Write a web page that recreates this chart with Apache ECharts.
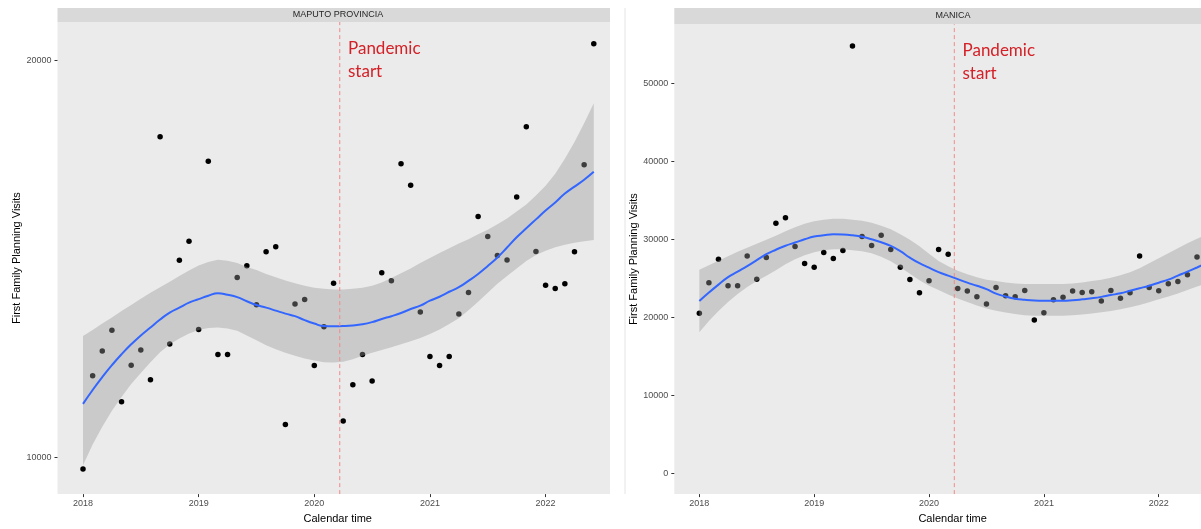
<!DOCTYPE html>
<html><head><meta charset="utf-8">
<script src="https://cdn.jsdelivr.net/npm/echarts@6/dist/echarts.min.js"></script>
<style>html,body{margin:0;padding:0;background:#fff;}#c{width:1201px;height:529px;}</style>
</head><body><div id="c"></div>
<script>
// Monthly observations starting January 2018 (index i -> 2018 + i/12)
const startYear = 2018;
const panelTitles = ['MAPUTO PROVINCIA', 'MANICA'];
const xTicks = [2018, 2019, 2020, 2021, 2022];
const maputoTicks = [10000, 20000];
const manicaTicks = [0, 10000, 20000, 30000, 40000, 50000];
const pandemicStart = 2020.22;
const annotation = 'Pandemic\nstart';
const xTitle = 'Calendar time';
const yTitle = 'First Family Planning Visits';

const maputoVisits = [9707, 12057, 12682, 13207, 11400, 12325, 12707, 11957, 18082, 12857,
  14967, 15450, 13225, 17467, 12592, 12592, 14532, 14832, 13850, 15182,
  15307, 10832, 13867, 13982, 12317, 13292, 14392, 10917, 11832, 12592,
  11925, 14657, 14450, 17400, 16857, 13667, 12542, 12317, 12542, 13617,
  14157, 16075, 15567, 15092, 14975, 16567, 18332, 15192, 14342, 14257,
  14375, 15182, 17375, 20425];
const maputoSmooth = [11350, 11700, 12025, 12325, 12600, 12850, 13075, 13275, 13475, 13650,
  13775, 13900, 13990, 14075, 14140, 14100, 14040, 13937, 13840, 13775,
  13700, 13625, 13560, 13460, 13375, 13310, 13305, 13310, 13325, 13355,
  13410, 13490, 13560, 13640, 13740, 13825, 13950, 14050, 14175, 14290,
  14450, 14625, 14825, 15040, 15290, 15550, 15775, 16000, 16225, 16425,
  16650, 16825, 17000, 17200];
const maputoUpper = [13060, 13210, 13375, 13525, 13690, 13840, 14000, 14150, 14290, 14425,
  14575, 14710, 14840, 14925, 14980, 14960, 14900, 14800, 14725, 14625,
  14540, 14460, 14390, 14325, 14275, 14250, 14230, 14230, 14250, 14275,
  14325, 14410, 14525, 14640, 14760, 14900, 15025, 15150, 15275, 15390,
  15500, 15625, 15740, 15875, 16025, 16200, 16375, 16600, 16850, 17150,
  17525, 17950, 18425, 18925];
const maputoLower = [9800, 10325, 10775, 11175, 11525, 11850, 12125, 12400, 12650, 12850,
  13000, 13125, 13210, 13260, 13275, 13250, 13190, 13075, 12950, 12825,
  12725, 12640, 12560, 12490, 12440, 12400, 12390, 12410, 12475, 12560,
  12640, 12710, 12775, 12850, 12925, 13010, 13110, 13225, 13360, 13510,
  13710, 13925, 14150, 14375, 14575, 14760, 14950, 15100, 15210, 15300,
  15360, 15410, 15450, 15480];

const manicaVisits = [20534, 24444, 27473, 24061, 24061, 27894, 24917, 27690, 32073, 32801,
  29095, 26923, 26450, 28329, 27562, 28584, 54818, 30373, 29224, 30539,
  28712, 26450, 24879, 23167, 24700, 28712, 28112, 23729, 23384, 22655,
  21723, 23857, 22783, 22655, 23473, 19678, 20611, 22272, 22579, 23384,
  23218, 23294, 22106, 23473, 22451, 23167, 27894, 23857, 23422, 24317,
  24623, 25467, 27767];
const manicaSmooth = [22106, 23192, 24214, 25173, 25875, 26578, 27345, 28112, 28687, 29197,
  29606, 30028, 30373, 30539, 30667, 30642, 30539, 30348, 30028, 29645,
  29172, 28495, 27664, 26962, 26387, 25812, 25364, 24917, 24470, 24061,
  23639, 23064, 22681, 22400, 22259, 22170, 22144, 22144, 22144, 22208,
  22323, 22464, 22643, 22873, 23103, 23422, 23742, 24074, 24457, 24853,
  25364, 25875, 26412, 26962];
const manicaUpper = [26105, 26706, 27281, 27856, 28431, 28942, 29453, 29964, 30475, 31051,
  31562, 32009, 32328, 32520, 32648, 32648, 32520, 32392, 32137, 31753,
  31306, 30667, 29964, 29134, 28175, 27255, 26578, 26003, 25556, 25173,
  24853, 24662, 24470, 24342, 24278, 24278, 24278, 24278, 24278, 24342,
  24470, 24662, 24853, 25109, 25428, 25812, 26323, 26962, 27600, 28239,
  28878, 29517, 30092, 30667];
const manicaLower = [18106, 19550, 20828, 21978, 23000, 23895, 24662, 25364, 26067, 26834,
  27473, 27984, 28367, 28623, 28751, 28751, 28623, 28495, 28239, 27792,
  27217, 26450, 25620, 24789, 24061, 23512, 22937, 22425, 21978, 21531,
  21148, 20866, 20636, 20445, 20291, 20227, 20227, 20227, 20227, 20279,
  20381, 20509, 20662, 20828, 21045, 21301, 21595, 21940, 22323, 22681,
  23064, 23512, 23959, 24406];

const xOf = i => startYear + i / 12;

// the right panel is cut off by the right edge of the picture
const grids = [
  { left: 57.5, top: 22, width: 552.5, height: 476 },
  { left: 674.3, top: 24.3, right: 0, height: 471.4 }
];
const yRanges = [[9075, 20975], [-2645, 57590]];
const yTickSets = [maputoTicks, manicaTicks];
const xRanges = [[2017.7795, 2022.557], [2017.782, 2022.368]];
const yNameGaps = [30, 23];
const xNamePads = [[0, 0, 0, 8], [0, 0, 0, 30]];

function panelSeries(gi, visits, smooth, upper, lower) {
  const bandData = upper.map((u, i) => [xOf(i), lower[i], u]);
  return [
    { type: 'scatter', xAxisIndex: gi, yAxisIndex: gi, z: 2, silent: true, clip: true,
      data: visits.map((v, i) => [xOf(i), v]),
      symbolSize: 5.5, itemStyle: { color: '#000', opacity: 1 } },
    { type: 'custom', xAxisIndex: gi, yAxisIndex: gi, z: 3, silent: true, clip: true,
      data: bandData, encode: { x: 0, y: [1, 2] },
      renderItem: function (params, api) {
        if (params.dataIndex !== 0) return null;
        const top = bandData.map(d => api.coord([d[0], d[2]]));
        const bot = bandData.map(d => api.coord([d[0], d[1]])).reverse();
        const cs = params.coordSys;
        return { type: 'polygon', shape: { points: top.concat(bot) },
          clipPath: { type: 'rect', shape: { x: cs.x, y: cs.y, width: cs.width, height: cs.height } },
          style: { fill: 'rgba(153,153,153,0.4)' } };
      } },
    { type: 'line', xAxisIndex: gi, yAxisIndex: gi, z: 4, silent: true, clip: true,
      data: smooth.map((v, i) => [xOf(i), v]), symbol: 'none', smooth: 0.5,
      lineStyle: { color: '#3366FF', width: 2 } },
    { type: 'line', xAxisIndex: gi, yAxisIndex: gi, z: 5, silent: true,
      data: [[pandemicStart, yRanges[gi][0]], [pandemicStart, yRanges[gi][1]]], symbol: 'none',
      lineStyle: { color: '#F28A8A', type: [4, 3], width: 1 } }
  ];
}

const chart = echarts.init(document.getElementById('c'), null, { renderer: 'canvas' });
const tickStyle = { show: true, length: 3, lineStyle: { color: '#333333', width: 1 } };
const labelFont = { color: '#4D4D4D', fontSize: 9, fontFamily: 'Liberation Sans, Arial, sans-serif' };

chart.setOption({
  animation: false,
  backgroundColor: '#ffffff',
  grid: grids.map(g => Object.assign({ show: true, backgroundColor: '#EBEBEB', borderWidth: 0 }, g)),
  xAxis: [0, 1].map(gi => ({
    type: 'value', gridIndex: gi, min: xRanges[gi][0], max: xRanges[gi][1],
    axisLine: { show: false, onZero: false }, splitLine: { show: false },
    axisTick: Object.assign({ customValues: xTicks }, tickStyle),
    axisLabel: Object.assign({ customValues: xTicks, margin: 5, formatter: v => String(Math.round(v)) }, labelFont),
    name: xTitle, nameLocation: 'middle', nameGap: 14,
    nameTextStyle: { color: '#000', fontSize: 11, fontFamily: 'Liberation Sans, Arial, sans-serif', padding: xNamePads[gi] }
  })),
  yAxis: [0, 1].map(gi => ({
    type: 'value', gridIndex: gi, min: yRanges[gi][0], max: yRanges[gi][1],
    axisLine: { show: false, onZero: false }, splitLine: { show: false },
    axisTick: Object.assign({ customValues: yTickSets[gi] }, tickStyle),
    axisLabel: Object.assign({ customValues: yTickSets[gi], margin: 6, formatter: v => String(Math.round(v)) }, labelFont),
    name: yTitle, nameLocation: 'middle', nameGap: yNameGaps[gi], nameRotate: 90,
    nameTextStyle: { color: '#000', fontSize: 11, fontFamily: 'Liberation Sans, Arial, sans-serif' }
  })),
  series: [].concat(
    panelSeries(0, maputoVisits, maputoSmooth, maputoUpper, maputoLower),
    panelSeries(1, manicaVisits, manicaSmooth, manicaUpper, manicaLower)
  ),
  graphic: [
    { type: 'line', shape: { x1: 625, y1: 8, x2: 625, y2: 494 }, style: { stroke: '#E4E4E4', lineWidth: 1 }, silent: true },
    { type: 'rect', shape: { x: 57.5, y: 8, width: 552.5, height: 14 }, style: { fill: '#D9D9D9' }, silent: true },
    { type: 'rect', shape: { x: 674.3, y: 8, width: 526.7, height: 16.3 }, style: { fill: '#D9D9D9' }, silent: true },
    { type: 'text', x: 338, y: 15, style: { text: panelTitles[0], fill: '#262626', font: '9px Liberation Sans, Arial, sans-serif', textAlign: 'center', textVerticalAlign: 'middle' }, silent: true },
    { type: 'text', x: 953, y: 16, style: { text: panelTitles[1], fill: '#262626', font: '9px Liberation Sans, Arial, sans-serif', textAlign: 'center', textVerticalAlign: 'middle' }, silent: true },
    { type: 'text', x: 348, y: 37, z: 10, style: { text: annotation, fill: '#D42027', font: '17px Lato, Open Sans, sans-serif', lineHeight: 23, textAlign: 'left', textVerticalAlign: 'top' }, silent: true },
    { type: 'text', x: 962.5, y: 39, z: 10, style: { text: annotation, fill: '#D42027', font: '17px Lato, Open Sans, sans-serif', lineHeight: 23, textAlign: 'left', textVerticalAlign: 'top' }, silent: true }
  ]
});
</script></body></html>
